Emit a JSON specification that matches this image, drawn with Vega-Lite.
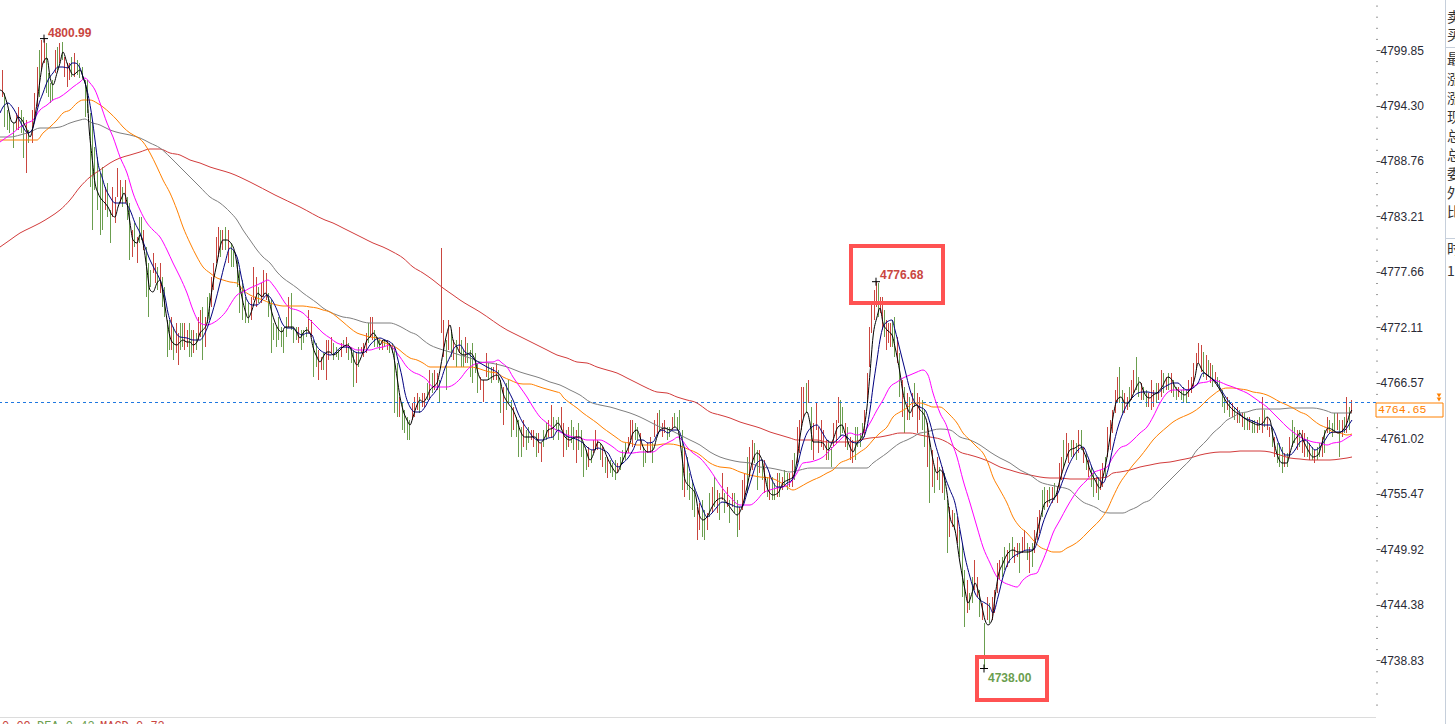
{
"$schema":"https://vega.github.io/schema/vega-lite/v6.json",
"width":1376,"height":724,
"autosize":{"type":"none"},
"padding":{"left":0,"top":0,"right":79,"bottom":0},
"background":"#ffffff",
"config":{"view":{"stroke":null},"axis":{"grid":false}},
"datasets":{
"bars":[
{"t":2,"h":4797.85,"l":4795.15,"c":"r"},{"t":4,"h":4795.55,"l":4792.15,"c":"g"},{"t":7,"h":4793.85,"l":4791.85,"c":"g"},{"t":9,"h":4793.55,"l":4791.55,"c":"g"},{"t":13,"h":4792.55,"l":4790.05,"c":"g"},{"t":16,"h":4793.55,"l":4791.85,"c":"r"},{"t":18,"h":4794.15,"l":4791.85,"c":"r"},{"t":21,"h":4793.85,"l":4791.55,"c":"g"},{"t":23,"h":4793.15,"l":4789.05,"c":"g"},{"t":26,"h":4792.85,"l":4787.55,"c":"r"},{"t":28,"h":4791.85,"l":4790.55,"c":"g"},{"t":32,"h":4793.85,"l":4790.55,"c":"r"},{"t":34,"h":4795.55,"l":4793.15,"c":"r"},{"t":37,"h":4798.15,"l":4794.15,"c":"r"},{"t":39,"h":4799.85,"l":4795.15,"c":"g"},{"t":41,"h":4800.85,"l":4797.85,"c":"r"},{"t":44,"h":4800.99,"l":4798.55,"c":"r"},{"t":46,"h":4800.55,"l":4795.55,"c":"g"},{"t":48,"h":4797.55,"l":4795.15,"c":"g"},{"t":50,"h":4796.55,"l":4794.55,"c":"g"},{"t":52,"h":4796.85,"l":4794.85,"c":"g"},{"t":55,"h":4799.85,"l":4797.55,"c":"r"},{"t":57,"h":4800.15,"l":4797.85,"c":"g"},{"t":59,"h":4800.55,"l":4798.55,"c":"r"},{"t":62,"h":4800.65,"l":4798.85,"c":"g"},{"t":64,"h":4799.15,"l":4797.15,"c":"r"},{"t":67,"h":4798.55,"l":4796.15,"c":"r"},{"t":69,"h":4798.55,"l":4796.85,"c":"r"},{"t":71,"h":4799.15,"l":4797.15,"c":"g"},{"t":74,"h":4799.55,"l":4797.15,"c":"r"},{"t":77,"h":4798.85,"l":4797.35,"c":"g"},{"t":79,"h":4798.55,"l":4797.05,"c":"g"},{"t":82,"h":4798.15,"l":4796.85,"c":"g"},{"t":85,"h":4796.85,"l":4793.15,"c":"g"},{"t":87,"h":4796.85,"l":4793.55,"c":"g"},{"t":90,"h":4793.55,"l":4786.15,"c":"g"},{"t":92,"h":4792.85,"l":4781.85,"c":"g"},{"t":94,"h":4790.15,"l":4785.85,"c":"g"},{"t":97,"h":4789.15,"l":4783.85,"c":"g"},{"t":100,"h":4787.55,"l":4781.35,"c":"g"},{"t":102,"h":4788.15,"l":4781.85,"c":"g"},{"t":105,"h":4786.15,"l":4783.85,"c":"r"},{"t":107,"h":4786.55,"l":4783.15,"c":"g"},{"t":110,"h":4783.85,"l":4780.55,"c":"g"},{"t":112,"h":4786.15,"l":4783.15,"c":"r"},{"t":115,"h":4785.15,"l":4782.55,"c":"r"},{"t":117,"h":4788.05,"l":4785.15,"c":"r"},{"t":120,"h":4786.85,"l":4784.55,"c":"r"},{"t":122,"h":4786.15,"l":4784.15,"c":"g"},{"t":125,"h":4786.85,"l":4784.55,"c":"r"},{"t":127,"h":4785.15,"l":4782.85,"c":"g"},{"t":129,"h":4784.55,"l":4778.85,"c":"g"},{"t":132,"h":4781.85,"l":4779.15,"c":"r"},{"t":134,"h":4782.55,"l":4780.15,"c":"g"},{"t":137,"h":4781.15,"l":4778.55,"c":"r"},{"t":139,"h":4783.15,"l":4780.55,"c":"g"},{"t":141,"h":4783.15,"l":4780.85,"c":"g"},{"t":143,"h":4781.85,"l":4779.85,"c":"r"},{"t":146,"h":4780.15,"l":4775.15,"c":"g"},{"t":148,"h":4778.55,"l":4773.15,"c":"g"},{"t":150,"h":4777.85,"l":4776.15,"c":"g"},{"t":153,"h":4779.55,"l":4777.55,"c":"r"},{"t":155,"h":4778.55,"l":4776.55,"c":"r"},{"t":157,"h":4778.15,"l":4775.85,"c":"g"},{"t":160,"h":4778.55,"l":4775.55,"c":"r"},{"t":162,"h":4777.15,"l":4774.15,"c":"g"},{"t":164,"h":4776.15,"l":4773.15,"c":"g"},{"t":167,"h":4772.85,"l":4769.15,"c":"g"},{"t":169,"h":4772.85,"l":4769.85,"c":"g"},{"t":171,"h":4773.15,"l":4769.85,"c":"r"},{"t":173,"h":4772.15,"l":4768.85,"c":"g"},{"t":176,"h":4772.55,"l":4769.55,"c":"r"},{"t":178,"h":4771.55,"l":4768.35,"c":"r"},{"t":180,"h":4772.55,"l":4769.85,"c":"g"},{"t":182,"h":4772.55,"l":4770.15,"c":"g"},{"t":184,"h":4772.55,"l":4769.85,"c":"r"},{"t":187,"h":4771.85,"l":4770.15,"c":"r"},{"t":189,"h":4772.55,"l":4769.15,"c":"g"},{"t":191,"h":4771.85,"l":4769.15,"c":"g"},{"t":193,"h":4771.85,"l":4769.55,"c":"r"},{"t":196,"h":4771.55,"l":4769.85,"c":"g"},{"t":198,"h":4773.15,"l":4770.85,"c":"r"},{"t":200,"h":4773.85,"l":4771.15,"c":"r"},{"t":202,"h":4774.15,"l":4768.85,"c":"g"},{"t":205,"h":4773.15,"l":4770.15,"c":"r"},{"t":207,"h":4775.15,"l":4772.55,"c":"g"},{"t":209,"h":4775.55,"l":4772.85,"c":"g"},{"t":211,"h":4777.15,"l":4774.15,"c":"r"},{"t":213,"h":4778.55,"l":4775.85,"c":"r"},{"t":216,"h":4781.15,"l":4778.55,"c":"r"},{"t":218,"h":4782.15,"l":4779.15,"c":"r"},{"t":220,"h":4781.85,"l":4779.15,"c":"g"},{"t":222,"h":4781.85,"l":4779.85,"c":"r"},{"t":225,"h":4782.15,"l":4779.85,"c":"g"},{"t":228,"h":4781.85,"l":4778.55,"c":"r"},
{"t":231,"h":4780.55,"l":4778.15,"c":"g"},{"t":233,"h":4779.85,"l":4778.15,"c":"g"},{"t":237,"h":4778.85,"l":4776.15,"c":"g"},{"t":239,"h":4777.85,"l":4773.55,"c":"g"},{"t":242,"h":4776.85,"l":4772.85,"c":"g"},{"t":245,"h":4775.15,"l":4772.55,"c":"g"},{"t":248,"h":4774.55,"l":4772.55,"c":"g"},{"t":251,"h":4775.15,"l":4772.85,"c":"r"},{"t":253,"h":4778.15,"l":4774.85,"c":"r"},{"t":256,"h":4777.15,"l":4774.15,"c":"r"},{"t":258,"h":4776.15,"l":4774.55,"c":"g"},{"t":261,"h":4776.55,"l":4774.55,"c":"r"},{"t":263,"h":4777.85,"l":4775.15,"c":"r"},{"t":266,"h":4777.55,"l":4774.85,"c":"r"},{"t":268,"h":4775.55,"l":4773.15,"c":"g"},{"t":271,"h":4774.85,"l":4769.55,"c":"g"},{"t":273,"h":4772.55,"l":4770.85,"c":"g"},{"t":276,"h":4772.15,"l":4770.15,"c":"g"},{"t":278,"h":4773.15,"l":4770.85,"c":"g"},{"t":281,"h":4772.15,"l":4770.15,"c":"g"},{"t":283,"h":4771.85,"l":4769.55,"c":"g"},{"t":286,"h":4773.15,"l":4771.15,"c":"g"},{"t":288,"h":4775.15,"l":4772.15,"c":"r"},{"t":291,"h":4775.55,"l":4771.85,"c":"g"},{"t":293,"h":4772.15,"l":4770.55,"c":"g"},{"t":296,"h":4772.15,"l":4770.85,"c":"g"},{"t":298,"h":4772.15,"l":4770.55,"c":"r"},{"t":301,"h":4771.85,"l":4769.85,"c":"g"},{"t":303,"h":4771.85,"l":4770.55,"c":"g"},{"t":306,"h":4772.15,"l":4771.15,"c":"g"},{"t":308,"h":4773.85,"l":4771.55,"c":"r"},{"t":311,"h":4772.85,"l":4771.15,"c":"r"},{"t":313,"h":4770.85,"l":4767.15,"c":"g"},{"t":316,"h":4770.55,"l":4768.15,"c":"g"},{"t":318,"h":4769.85,"l":4766.85,"c":"r"},{"t":321,"h":4769.15,"l":4767.85,"c":"r"},{"t":323,"h":4769.55,"l":4767.85,"c":"g"},{"t":326,"h":4770.85,"l":4766.85,"c":"r"},{"t":328,"h":4770.85,"l":4768.85,"c":"r"},{"t":331,"h":4771.15,"l":4769.55,"c":"r"},{"t":333,"h":4770.55,"l":4768.85,"c":"g"},{"t":336,"h":4770.15,"l":4769.15,"c":"g"},{"t":338,"h":4769.85,"l":4768.85,"c":"g"},{"t":341,"h":4770.55,"l":4769.15,"c":"r"},{"t":343,"h":4770.85,"l":4770.15,"c":"g"},{"t":346,"h":4771.15,"l":4769.55,"c":"r"},{"t":348,"h":4770.55,"l":4768.85,"c":"g"},{"t":351,"h":4770.15,"l":4768.55,"c":"g"},{"t":353,"h":4769.85,"l":4766.15,"c":"g"},{"t":356,"h":4769.55,"l":4766.55,"c":"r"},{"t":358,"h":4770.15,"l":4768.15,"c":"g"},{"t":361,"h":4770.15,"l":4769.55,"c":"r"},{"t":363,"h":4770.55,"l":4769.15,"c":"r"},{"t":366,"h":4771.55,"l":4769.55,"c":"r"},{"t":368,"h":4772.55,"l":4770.55,"c":"g"},{"t":370,"h":4773.15,"l":4771.15,"c":"r"},{"t":372,"h":4773.15,"l":4770.85,"c":"r"},{"t":374,"h":4771.85,"l":4770.15,"c":"g"},{"t":377,"h":4771.15,"l":4770.15,"c":"g"},{"t":379,"h":4770.85,"l":4769.85,"c":"g"},{"t":382,"h":4770.85,"l":4769.85,"c":"r"},{"t":384,"h":4770.85,"l":4770.15,"c":"g"},{"t":387,"h":4770.85,"l":4769.85,"c":"r"},{"t":389,"h":4770.55,"l":4769.55,"c":"g"},{"t":392,"h":4770.55,"l":4769.55,"c":"g"},{"t":394,"h":4770.15,"l":4763.55,"c":"g"},{"t":397,"h":4768.55,"l":4763.15,"c":"g"},{"t":399,"h":4765.15,"l":4763.15,"c":"r"},{"t":402,"h":4764.55,"l":4761.85,"c":"g"},{"t":404,"h":4763.85,"l":4761.55,"c":"g"},{"t":407,"h":4763.15,"l":4760.85,"c":"g"},{"t":409,"h":4762.85,"l":4760.85,"c":"g"},{"t":412,"h":4764.55,"l":4762.85,"c":"r"},{"t":414,"h":4765.15,"l":4763.15,"c":"r"},{"t":417,"h":4765.55,"l":4763.85,"c":"r"},{"t":419,"h":4765.15,"l":4763.55,"c":"g"},{"t":422,"h":4765.55,"l":4764.15,"c":"r"},{"t":424,"h":4765.55,"l":4764.15,"c":"r"},{"t":427,"h":4766.55,"l":4764.85,"c":"g"},{"t":429,"h":4767.85,"l":4764.85,"c":"r"},{"t":432,"h":4767.55,"l":4765.55,"c":"g"},{"t":434,"h":4767.85,"l":4765.85,"c":"r"},{"t":437,"h":4767.55,"l":4765.85,"c":"r"},{"t":439,"h":4766.85,"l":4764.55,"c":"g"},{"t":441,"h":4780.05,"l":4771.55,"c":"r"},{"t":443,"h":4772.85,"l":4769.15,"c":"r"},{"t":446,"h":4770.85,"l":4765.85,"c":"g"},{"t":448,"h":4772.85,"l":4769.85,"c":"r"},{"t":451,"h":4771.85,"l":4769.15,"c":"g"},{"t":453,"h":4770.85,"l":4768.85,"c":"r"},{"t":456,"h":4770.85,"l":4768.15,"c":"g"},{"t":459,"h":4772.15,"l":4769.55,"c":"r"},
{"t":461,"h":4770.85,"l":4768.15,"c":"g"},{"t":463,"h":4769.85,"l":4768.15,"c":"g"},{"t":465,"h":4771.15,"l":4768.55,"c":"r"},{"t":467,"h":4770.55,"l":4768.55,"c":"g"},{"t":470,"h":4769.85,"l":4767.15,"c":"g"},{"t":472,"h":4770.55,"l":4766.55,"c":"g"},{"t":475,"h":4769.55,"l":4767.55,"c":"g"},{"t":477,"h":4768.55,"l":4765.55,"c":"g"},{"t":480,"h":4767.15,"l":4765.85,"c":"r"},{"t":483,"h":4766.85,"l":4764.65,"c":"r"},{"t":486,"h":4769.55,"l":4767.15,"c":"r"},{"t":488,"h":4768.55,"l":4766.85,"c":"g"},{"t":491,"h":4768.15,"l":4766.55,"c":"g"},{"t":493,"h":4768.15,"l":4766.85,"c":"r"},{"t":496,"h":4768.55,"l":4766.85,"c":"r"},{"t":498,"h":4767.85,"l":4766.55,"c":"g"},{"t":500,"h":4766.85,"l":4763.55,"c":"g"},{"t":503,"h":4766.15,"l":4762.35,"c":"r"},{"t":506,"h":4766.55,"l":4763.85,"c":"g"},{"t":508,"h":4766.85,"l":4764.55,"c":"g"},{"t":511,"h":4764.85,"l":4761.15,"c":"g"},{"t":513,"h":4764.15,"l":4761.85,"c":"r"},{"t":516,"h":4763.15,"l":4761.15,"c":"g"},{"t":518,"h":4762.85,"l":4759.15,"c":"g"},{"t":521,"h":4762.15,"l":4759.15,"c":"g"},{"t":523,"h":4762.85,"l":4760.15,"c":"r"},{"t":526,"h":4761.85,"l":4759.85,"c":"g"},{"t":528,"h":4762.15,"l":4760.55,"c":"g"},{"t":531,"h":4761.85,"l":4760.85,"c":"r"},{"t":533,"h":4761.85,"l":4760.15,"c":"r"},{"t":536,"h":4761.55,"l":4759.15,"c":"g"},{"t":538,"h":4761.55,"l":4759.55,"c":"r"},{"t":541,"h":4760.55,"l":4758.65,"c":"r"},{"t":543,"h":4761.85,"l":4760.15,"c":"g"},{"t":546,"h":4762.55,"l":4760.85,"c":"g"},{"t":548,"h":4762.85,"l":4761.15,"c":"r"},{"t":551,"h":4764.35,"l":4761.15,"c":"r"},{"t":553,"h":4763.15,"l":4760.85,"c":"g"},{"t":556,"h":4762.85,"l":4761.85,"c":"g"},{"t":558,"h":4763.15,"l":4760.85,"c":"g"},{"t":561,"h":4764.15,"l":4761.85,"c":"r"},{"t":563,"h":4762.55,"l":4759.15,"c":"r"},{"t":566,"h":4761.85,"l":4759.85,"c":"g"},{"t":568,"h":4762.15,"l":4760.15,"c":"r"},{"t":571,"h":4762.85,"l":4760.55,"c":"g"},{"t":573,"h":4762.15,"l":4759.85,"c":"g"},{"t":576,"h":4761.85,"l":4758.55,"c":"r"},{"t":578,"h":4762.55,"l":4759.85,"c":"g"},{"t":581,"h":4761.85,"l":4759.15,"c":"g"},{"t":583,"h":4760.55,"l":4757.15,"c":"g"},{"t":586,"h":4759.85,"l":4757.85,"c":"g"},{"t":588,"h":4760.15,"l":4758.15,"c":"r"},{"t":591,"h":4759.85,"l":4758.55,"c":"g"},{"t":593,"h":4760.85,"l":4759.55,"c":"r"},{"t":595,"h":4761.85,"l":4759.85,"c":"r"},{"t":597,"h":4760.85,"l":4759.85,"c":"r"},{"t":600,"h":4760.55,"l":4758.85,"c":"g"},{"t":602,"h":4760.15,"l":4758.15,"c":"r"},{"t":605,"h":4759.15,"l":4757.55,"c":"g"},{"t":607,"h":4759.15,"l":4757.05,"c":"r"},{"t":610,"h":4758.85,"l":4757.55,"c":"g"},{"t":612,"h":4758.55,"l":4757.15,"c":"g"},{"t":615,"h":4758.85,"l":4756.85,"c":"g"},{"t":617,"h":4758.55,"l":4757.55,"c":"r"},{"t":620,"h":4759.15,"l":4757.85,"c":"g"},{"t":622,"h":4759.85,"l":4758.55,"c":"g"},{"t":625,"h":4760.55,"l":4758.85,"c":"g"},{"t":628,"h":4761.15,"l":4759.55,"c":"r"},{"t":630,"h":4762.85,"l":4760.85,"c":"r"},{"t":632,"h":4762.85,"l":4760.15,"c":"r"},{"t":635,"h":4762.55,"l":4760.85,"c":"g"},{"t":637,"h":4762.15,"l":4760.85,"c":"g"},{"t":640,"h":4761.55,"l":4759.85,"c":"r"},{"t":643,"h":4760.15,"l":4758.15,"c":"g"},{"t":645,"h":4759.85,"l":4758.55,"c":"g"},{"t":647,"h":4760.55,"l":4759.55,"c":"r"},{"t":650,"h":4761.15,"l":4759.55,"c":"r"},{"t":652,"h":4760.55,"l":4758.55,"c":"g"},{"t":654,"h":4762.85,"l":4761.15,"c":"r"},{"t":657,"h":4763.55,"l":4761.55,"c":"r"},{"t":659,"h":4763.85,"l":4761.85,"c":"g"},{"t":662,"h":4762.55,"l":4761.15,"c":"r"},{"t":664,"h":4762.85,"l":4761.55,"c":"r"},{"t":667,"h":4762.15,"l":4760.85,"c":"g"},{"t":669,"h":4762.15,"l":4761.15,"c":"g"},{"t":672,"h":4763.15,"l":4761.85,"c":"r"},{"t":674,"h":4763.55,"l":4762.15,"c":"g"},{"t":677,"h":4763.15,"l":4761.85,"c":"g"},{"t":679,"h":4763.85,"l":4761.85,"c":"g"},{"t":682,"h":4761.85,"l":4755.85,"c":"g"},{"t":684,"h":4760.15,"l":4755.15,"c":"r"},{"t":687,"h":4759.15,"l":4755.85,"c":"g"},{"t":689,"h":4757.55,"l":4754.85,"c":"g"},{"t":692,"h":4756.85,"l":4753.85,"c":"g"},{"t":694,"h":4756.15,"l":4753.15,"c":"g"},{"t":697,"h":4754.15,"l":4750.85,"c":"r"},{"t":699,"h":4754.55,"l":4751.85,"c":"r"},
{"t":702,"h":4754.85,"l":4751.15,"c":"g"},{"t":704,"h":4753.85,"l":4750.85,"c":"g"},{"t":707,"h":4753.55,"l":4751.85,"c":"r"},{"t":709,"h":4755.55,"l":4753.15,"c":"g"},{"t":712,"h":4756.15,"l":4753.55,"c":"r"},{"t":714,"h":4757.15,"l":4754.15,"c":"g"},{"t":717,"h":4755.85,"l":4753.55,"c":"r"},{"t":719,"h":4755.55,"l":4752.85,"c":"g"},{"t":722,"h":4757.55,"l":4754.85,"c":"r"},{"t":724,"h":4755.55,"l":4753.55,"c":"g"},{"t":727,"h":4756.15,"l":4754.15,"c":"r"},{"t":729,"h":4754.85,"l":4752.55,"c":"g"},{"t":732,"h":4755.55,"l":4754.15,"c":"r"},{"t":734,"h":4755.55,"l":4753.55,"c":"g"},{"t":737,"h":4754.85,"l":4751.15,"c":"g"},{"t":739,"h":4754.15,"l":4751.85,"c":"r"},{"t":742,"h":4756.85,"l":4753.85,"c":"r"},{"t":744,"h":4757.55,"l":4754.85,"c":"r"},{"t":747,"h":4759.15,"l":4755.55,"c":"g"},{"t":749,"h":4760.15,"l":4757.15,"c":"r"},{"t":752,"h":4760.85,"l":4757.85,"c":"r"},{"t":754,"h":4760.55,"l":4758.55,"c":"g"},{"t":757,"h":4759.85,"l":4755.85,"c":"g"},{"t":759,"h":4759.85,"l":4757.55,"c":"r"},{"t":762,"h":4758.85,"l":4756.85,"c":"g"},{"t":764,"h":4758.85,"l":4755.55,"c":"r"},{"t":767,"h":4757.15,"l":4755.15,"c":"g"},{"t":769,"h":4757.55,"l":4754.85,"c":"r"},{"t":772,"h":4757.15,"l":4754.85,"c":"g"},{"t":774,"h":4756.55,"l":4754.85,"c":"g"},{"t":777,"h":4757.55,"l":4755.15,"c":"r"},{"t":779,"h":4757.55,"l":4755.15,"c":"g"},{"t":782,"h":4757.15,"l":4755.85,"c":"r"},{"t":784,"h":4757.85,"l":4756.15,"c":"g"},{"t":787,"h":4757.55,"l":4755.85,"c":"g"},{"t":789,"h":4757.55,"l":4756.15,"c":"r"},{"t":792,"h":4758.85,"l":4756.15,"c":"r"},{"t":794,"h":4759.55,"l":4756.85,"c":"g"},{"t":797,"h":4762.15,"l":4758.55,"c":"r"},{"t":799,"h":4762.85,"l":4759.55,"c":"r"},{"t":801,"h":4766.15,"l":4761.85,"c":"r"},{"t":803,"h":4766.15,"l":4763.15,"c":"r"},{"t":806,"h":4766.55,"l":4763.55,"c":"g"},{"t":808,"h":4766.85,"l":4764.55,"c":"r"},{"t":811,"h":4764.15,"l":4759.85,"c":"g"},{"t":813,"h":4762.55,"l":4758.85,"c":"r"},{"t":816,"h":4764.55,"l":4761.85,"c":"r"},{"t":818,"h":4762.15,"l":4759.55,"c":"r"},{"t":821,"h":4762.85,"l":4760.15,"c":"r"},{"t":823,"h":4761.85,"l":4759.85,"c":"r"},{"t":826,"h":4760.85,"l":4758.85,"c":"r"},{"t":828,"h":4760.85,"l":4758.85,"c":"g"},{"t":831,"h":4760.15,"l":4758.15,"c":"g"},{"t":833,"h":4762.55,"l":4760.15,"c":"r"},{"t":836,"h":4762.85,"l":4760.55,"c":"r"},{"t":838,"h":4765.15,"l":4762.55,"c":"r"},{"t":840,"h":4764.85,"l":4761.15,"c":"g"},{"t":842,"h":4764.15,"l":4761.55,"c":"g"},{"t":845,"h":4762.55,"l":4760.15,"c":"r"},{"t":847,"h":4762.15,"l":4759.85,"c":"g"},{"t":850,"h":4761.15,"l":4758.85,"c":"r"},{"t":852,"h":4760.85,"l":4758.55,"c":"r"},{"t":855,"h":4762.15,"l":4758.85,"c":"g"},{"t":857,"h":4762.15,"l":4760.15,"c":"g"},{"t":860,"h":4761.55,"l":4760.15,"c":"g"},{"t":862,"h":4762.55,"l":4760.85,"c":"g"},{"t":864,"h":4763.85,"l":4761.15,"c":"r"},{"t":867,"h":4767.55,"l":4764.55,"c":"r"},{"t":869,"h":4772.15,"l":4768.15,"c":"r"},{"t":871,"h":4774.55,"l":4771.55,"c":"r"},{"t":874,"h":4775.85,"l":4772.85,"c":"r"},{"t":876,"h":4776.68,"l":4774.15,"c":"r"},{"t":878,"h":4776.55,"l":4773.15,"c":"g"},{"t":880,"h":4775.15,"l":4773.55,"c":"r"},{"t":882,"h":4775.15,"l":4771.85,"c":"r"},{"t":884,"h":4773.85,"l":4771.15,"c":"g"},{"t":886,"h":4772.85,"l":4769.85,"c":"r"},{"t":888,"h":4772.55,"l":4770.55,"c":"r"},{"t":890,"h":4772.55,"l":4770.15,"c":"r"},{"t":892,"h":4772.85,"l":4770.15,"c":"g"},{"t":894,"h":4773.15,"l":4769.15,"c":"g"},{"t":897,"h":4771.15,"l":4768.55,"c":"r"},{"t":899,"h":4769.55,"l":4765.15,"c":"g"},{"t":902,"h":4766.85,"l":4763.15,"c":"r"},{"t":904,"h":4766.15,"l":4761.55,"c":"g"},{"t":907,"h":4765.55,"l":4762.85,"c":"r"},{"t":909,"h":4765.15,"l":4762.85,"c":"g"},{"t":912,"h":4765.55,"l":4763.15,"c":"r"},{"t":914,"h":4766.55,"l":4764.15,"c":"g"},{"t":917,"h":4765.55,"l":4761.55,"c":"r"},{"t":919,"h":4765.15,"l":4762.85,"c":"r"},{"t":922,"h":4764.85,"l":4761.85,"c":"g"},{"t":924,"h":4763.85,"l":4760.15,"c":"g"},{"t":927,"h":4762.55,"l":4758.15,"c":"r"},{"t":929,"h":4760.85,"l":4754.55,"c":"g"},{"t":932,"h":4759.85,"l":4756.15,"c":"r"},{"t":934,"h":4758.15,"l":4755.55,"c":"g"},{"t":937,"h":4759.15,"l":4756.85,"c":"r"},{"t":939,"h":4758.15,"l":4755.85,"c":"g"},{"t":942,"h":4758.15,"l":4755.55,"c":"r"},{"t":944,"h":4757.55,"l":4754.85,"c":"g"},{"t":947,"h":4754.85,"l":4749.55,"c":"g"},{"t":949,"h":4754.15,"l":4751.15,"c":"r"},
{"t":952,"h":4753.85,"l":4752.15,"c":"r"},{"t":954,"h":4753.55,"l":4751.85,"c":"g"},{"t":957,"h":4753.15,"l":4750.55,"c":"r"},{"t":959,"h":4751.85,"l":4749.15,"c":"g"},{"t":962,"h":4750.55,"l":4745.15,"c":"g"},{"t":964,"h":4747.85,"l":4742.15,"c":"g"},{"t":967,"h":4746.85,"l":4743.55,"c":"r"},{"t":969,"h":4745.55,"l":4743.85,"c":"g"},{"t":972,"h":4747.15,"l":4744.55,"c":"g"},{"t":974,"h":4748.85,"l":4745.85,"c":"r"},{"t":977,"h":4747.15,"l":4745.15,"c":"r"},{"t":979,"h":4745.85,"l":4743.15,"c":"g"},{"t":982,"h":4744.55,"l":4742.85,"c":"r"},{"t":984,"h":4742.55,"l":4738.0,"c":"g"},{"t":987,"h":4745.15,"l":4742.85,"c":"r"},{"t":989,"h":4744.55,"l":4742.55,"c":"g"},{"t":992,"h":4745.15,"l":4742.85,"c":"r"},{"t":994,"h":4745.85,"l":4743.55,"c":"r"},{"t":997,"h":4748.55,"l":4745.55,"c":"r"},{"t":999,"h":4748.85,"l":4746.85,"c":"r"},{"t":1002,"h":4749.15,"l":4747.15,"c":"g"},{"t":1004,"h":4750.15,"l":4747.85,"c":"g"},{"t":1007,"h":4749.85,"l":4748.15,"c":"r"},{"t":1009,"h":4750.55,"l":4748.55,"c":"g"},{"t":1012,"h":4751.15,"l":4749.15,"c":"g"},{"t":1014,"h":4750.15,"l":4748.55,"c":"r"},{"t":1017,"h":4750.55,"l":4749.15,"c":"r"},{"t":1019,"h":4750.55,"l":4747.55,"c":"g"},{"t":1022,"h":4751.15,"l":4749.55,"c":"r"},{"t":1024,"h":4751.85,"l":4749.85,"c":"r"},{"t":1027,"h":4750.55,"l":4748.85,"c":"g"},{"t":1029,"h":4750.15,"l":4747.55,"c":"r"},{"t":1032,"h":4750.55,"l":4748.15,"c":"g"},{"t":1034,"h":4751.85,"l":4749.55,"c":"r"},{"t":1037,"h":4753.15,"l":4750.85,"c":"r"},{"t":1039,"h":4753.85,"l":4751.55,"c":"r"},{"t":1042,"h":4755.85,"l":4753.15,"c":"g"},{"t":1044,"h":4756.15,"l":4753.85,"c":"g"},{"t":1047,"h":4755.85,"l":4754.15,"c":"r"},{"t":1049,"h":4756.15,"l":4754.55,"c":"g"},{"t":1052,"h":4756.15,"l":4754.55,"c":"r"},{"t":1054,"h":4756.55,"l":4754.85,"c":"g"},{"t":1057,"h":4756.15,"l":4754.55,"c":"r"},{"t":1059,"h":4758.55,"l":4755.85,"c":"r"},{"t":1061,"h":4759.15,"l":4756.85,"c":"r"},{"t":1063,"h":4760.85,"l":4758.15,"c":"g"},{"t":1066,"h":4761.55,"l":4759.15,"c":"r"},{"t":1068,"h":4760.55,"l":4758.55,"c":"r"},{"t":1071,"h":4760.85,"l":4759.15,"c":"g"},{"t":1073,"h":4760.85,"l":4759.15,"c":"r"},{"t":1076,"h":4760.55,"l":4758.85,"c":"g"},{"t":1078,"h":4761.85,"l":4759.55,"c":"r"},{"t":1081,"h":4761.85,"l":4759.85,"c":"g"},{"t":1083,"h":4760.15,"l":4758.55,"c":"r"},{"t":1086,"h":4759.55,"l":4757.85,"c":"g"},{"t":1088,"h":4758.85,"l":4757.15,"c":"r"},{"t":1091,"h":4758.15,"l":4756.15,"c":"g"},{"t":1093,"h":4757.55,"l":4755.15,"c":"g"},{"t":1096,"h":4757.15,"l":4755.55,"c":"r"},{"t":1098,"h":4757.15,"l":4754.85,"c":"g"},{"t":1100,"h":4757.85,"l":4755.85,"c":"r"},{"t":1102,"h":4758.55,"l":4756.15,"c":"r"},{"t":1105,"h":4759.15,"l":4757.15,"c":"g"},{"t":1107,"h":4762.15,"l":4759.15,"c":"r"},{"t":1110,"h":4762.85,"l":4759.85,"c":"r"},{"t":1112,"h":4763.85,"l":4761.55,"c":"r"},{"t":1115,"h":4765.85,"l":4763.55,"c":"r"},{"t":1117,"h":4767.15,"l":4764.55,"c":"r"},{"t":1119,"h":4768.15,"l":4764.55,"c":"g"},{"t":1122,"h":4765.85,"l":4763.55,"c":"g"},{"t":1124,"h":4765.55,"l":4763.55,"c":"r"},{"t":1127,"h":4765.15,"l":4763.85,"c":"r"},{"t":1129,"h":4766.15,"l":4764.15,"c":"g"},{"t":1131,"h":4766.85,"l":4764.85,"c":"r"},{"t":1133,"h":4767.85,"l":4765.55,"c":"r"},{"t":1136,"h":4769.15,"l":4765.85,"c":"g"},{"t":1138,"h":4767.15,"l":4765.15,"c":"g"},{"t":1141,"h":4766.55,"l":4764.85,"c":"r"},{"t":1143,"h":4766.15,"l":4764.85,"c":"g"},{"t":1146,"h":4765.85,"l":4764.15,"c":"g"},{"t":1148,"h":4765.55,"l":4764.15,"c":"r"},{"t":1151,"h":4766.85,"l":4763.85,"c":"r"},{"t":1153,"h":4765.85,"l":4764.15,"c":"r"},{"t":1156,"h":4766.55,"l":4764.55,"c":"g"},{"t":1158,"h":4766.55,"l":4764.85,"c":"r"},{"t":1161,"h":4767.85,"l":4765.15,"c":"r"},{"t":1163,"h":4767.55,"l":4765.55,"c":"g"},{"t":1166,"h":4767.15,"l":4765.85,"c":"r"},{"t":1168,"h":4767.55,"l":4765.85,"c":"g"},{"t":1171,"h":4767.55,"l":4765.55,"c":"r"},{"t":1173,"h":4766.85,"l":4765.15,"c":"g"},{"t":1176,"h":4766.15,"l":4764.85,"c":"g"},{"t":1178,"h":4766.15,"l":4765.15,"c":"r"},{"t":1181,"h":4765.85,"l":4764.85,"c":"g"},{"t":1183,"h":4766.15,"l":4764.55,"c":"g"},{"t":1186,"h":4765.85,"l":4764.55,"c":"g"},{"t":1188,"h":4766.85,"l":4765.15,"c":"r"},{"t":1191,"h":4767.15,"l":4765.55,"c":"r"},{"t":1193,"h":4768.55,"l":4766.15,"c":"r"},{"t":1196,"h":4769.55,"l":4767.85,"c":"r"},{"t":1198,"h":4770.55,"l":4768.55,"c":"r"},
{"t":1201,"h":4770.35,"l":4767.65,"c":"r"},{"t":1203,"h":4769.65,"l":4767.15,"c":"g"},{"t":1206,"h":4769.35,"l":4766.85,"c":"r"},{"t":1208,"h":4768.85,"l":4767.15,"c":"g"},{"t":1210,"h":4768.55,"l":4766.55,"c":"r"},{"t":1212,"h":4768.35,"l":4766.15,"c":"g"},{"t":1215,"h":4767.65,"l":4766.55,"c":"r"},{"t":1217,"h":4767.15,"l":4766.15,"c":"g"},{"t":1219,"h":4766.85,"l":4765.85,"c":"g"},{"t":1222,"h":4765.85,"l":4764.15,"c":"g"},{"t":1224,"h":4765.15,"l":4763.55,"c":"g"},{"t":1227,"h":4765.15,"l":4763.85,"c":"r"},{"t":1229,"h":4764.85,"l":4763.15,"c":"g"},{"t":1232,"h":4764.55,"l":4763.15,"c":"r"},{"t":1234,"h":4764.15,"l":4762.85,"c":"g"},{"t":1237,"h":4764.15,"l":4762.55,"c":"r"},{"t":1239,"h":4763.85,"l":4762.55,"c":"g"},{"t":1242,"h":4763.55,"l":4762.15,"c":"r"},{"t":1244,"h":4763.55,"l":4761.85,"c":"g"},{"t":1247,"h":4763.15,"l":4761.85,"c":"g"},{"t":1249,"h":4763.15,"l":4761.85,"c":"r"},{"t":1252,"h":4762.85,"l":4761.55,"c":"g"},{"t":1254,"h":4762.85,"l":4761.55,"c":"g"},{"t":1257,"h":4762.85,"l":4761.55,"c":"r"},{"t":1259,"h":4763.15,"l":4761.85,"c":"g"},{"t":1262,"h":4765.15,"l":4761.55,"c":"r"},{"t":1264,"h":4763.85,"l":4762.15,"c":"g"},{"t":1267,"h":4763.15,"l":4761.85,"c":"r"},{"t":1269,"h":4762.15,"l":4761.15,"c":"r"},{"t":1272,"h":4762.15,"l":4760.15,"c":"g"},{"t":1274,"h":4761.15,"l":4759.15,"c":"r"},{"t":1277,"h":4760.55,"l":4758.55,"c":"g"},{"t":1279,"h":4760.55,"l":4758.15,"c":"g"},{"t":1282,"h":4760.15,"l":4757.55,"c":"g"},{"t":1284,"h":4759.55,"l":4758.15,"c":"r"},{"t":1287,"h":4759.55,"l":4758.15,"c":"g"},{"t":1289,"h":4761.15,"l":4759.15,"c":"r"},{"t":1292,"h":4762.85,"l":4760.15,"c":"g"},{"t":1294,"h":4762.15,"l":4760.55,"c":"g"},{"t":1297,"h":4761.85,"l":4759.85,"c":"r"},{"t":1299,"h":4761.85,"l":4760.15,"c":"g"},{"t":1302,"h":4761.85,"l":4759.55,"c":"r"},{"t":1304,"h":4761.55,"l":4759.15,"c":"r"},{"t":1307,"h":4761.15,"l":4759.15,"c":"g"},{"t":1309,"h":4760.55,"l":4758.85,"c":"r"},{"t":1312,"h":4760.15,"l":4758.85,"c":"g"},{"t":1314,"h":4759.85,"l":4758.55,"c":"r"},{"t":1317,"h":4760.15,"l":4758.85,"c":"g"},{"t":1319,"h":4760.55,"l":4759.15,"c":"g"},{"t":1322,"h":4761.15,"l":4759.15,"c":"r"},{"t":1324,"h":4761.85,"l":4759.55,"c":"g"},{"t":1327,"h":4763.15,"l":4761.55,"c":"r"},{"t":1329,"h":4762.85,"l":4761.55,"c":"g"},{"t":1332,"h":4762.55,"l":4761.15,"c":"g"},{"t":1334,"h":4763.55,"l":4761.55,"c":"g"},{"t":1337,"h":4763.55,"l":4761.85,"c":"r"},{"t":1339,"h":4762.85,"l":4759.15,"c":"g"},{"t":1342,"h":4762.85,"l":4761.15,"c":"r"},{"t":1344,"h":4763.15,"l":4761.55,"c":"g"},{"t":1346,"h":4765.15,"l":4761.55,"c":"r"},{"t":1349,"h":4764.15,"l":4761.85,"c":"g"},{"t":1351,"h":4764.85,"l":4763.55,"c":"r"}
],
"m1":[
{"t":0,"v":4795.85},{"t":3,"v":4795.65},{"t":7,"v":4794.55},{"t":12,"v":4792.65},{"t":15,"v":4792.55},{"t":18,"v":4793.15},{"t":22,"v":4792.85},{"t":27,"v":4791.85},{"t":30,"v":4791.15},{"t":33,"v":4792.15},{"t":37,"v":4794.55},{"t":40,"v":4796.85},{"t":43,"v":4798.55},{"t":47,"v":4799.05},{"t":50,"v":4797.15},{"t":53,"v":4796.35},{"t":57,"v":4797.55},{"t":60,"v":4798.55},{"t":63,"v":4799.65},{"t":67,"v":4798.55},{"t":70,"v":4797.85},{"t":73,"v":4797.35},{"t":77,"v":4797.65},{"t":80,"v":4797.85},{"t":83,"v":4797.15},{"t":87,"v":4795.55},{"t":89,"v":4792.15},{"t":92,"v":4789.15},{"t":95,"v":4786.55},{"t":98,"v":4785.55},{"t":102,"v":4784.85},{"t":105,"v":4784.55},{"t":108,"v":4784.15},{"t":112,"v":4783.35},{"t":115,"v":4783.15},{"t":118,"v":4784.15},{"t":122,"v":4785.15},{"t":124,"v":4785.55},{"t":127,"v":4784.55},{"t":130,"v":4782.55},{"t":133,"v":4780.85},{"t":137,"v":4780.55},{"t":140,"v":4781.35},{"t":143,"v":4780.55},{"t":147,"v":4777.85},{"t":150,"v":4775.85},{"t":153,"v":4775.65},{"t":157,"v":4776.55},{"t":160,"v":4776.85},{"t":163,"v":4775.55},{"t":167,"v":4772.85},{"t":170,"v":4771.15},{"t":173,"v":4770.55},{"t":177,"v":4770.35},{"t":180,"v":4770.65},{"t":183,"v":4770.85},{"t":187,"v":4770.65},{"t":190,"v":4770.65},{"t":193,"v":4770.35},{"t":197,"v":4770.65},{"t":200,"v":4771.55},{"t":203,"v":4771.85},{"t":207,"v":4772.55},{"t":210,"v":4774.55},{"t":213,"v":4776.55},{"t":217,"v":4778.55},{"t":220,"v":4780.15},{"t":223,"v":4780.85},{"t":227,"v":4780.85},{"t":230,"v":4780.65},{"t":235,"v":4779.55},{"t":240,"v":4776.15},{"t":245,"v":4773.85},{"t":248,"v":4773.05},{"t":252,"v":4773.85},{"t":255,"v":4774.85},{"t":258,"v":4775.55},{"t":262,"v":4775.15},{"t":265,"v":4775.55},{"t":268,"v":4775.15},{"t":272,"v":4773.55},{"t":277,"v":4772.15},{"t":282,"v":4771.65},{"t":285,"v":4772.15},{"t":290,"v":4772.15},{"t":293,"v":4772.15},{"t":297,"v":4771.55},{"t":300,"v":4771.05},{"t":303,"v":4771.55},{"t":307,"v":4771.85},{"t":310,"v":4771.55},{"t":313,"v":4770.15},{"t":317,"v":4769.15},{"t":320,"v":4768.65},{"t":323,"v":4769.15},{"t":327,"v":4769.65},{"t":330,"v":4769.65},{"t":333,"v":4769.35},{"t":337,"v":4769.55},{"t":340,"v":4769.85},{"t":343,"v":4770.15},{"t":347,"v":4770.35},{"t":350,"v":4770.15},{"t":353,"v":4769.15},{"t":357,"v":4768.35},{"t":360,"v":4768.85},{"t":363,"v":4769.65},{"t":367,"v":4770.85},{"t":370,"v":4771.15},{"t":373,"v":4771.55},{"t":377,"v":4771.05},{"t":380,"v":4770.35},{"t":383,"v":4770.85},{"t":387,"v":4770.65},{"t":390,"v":4770.35},{"t":393,"v":4769.55},{"t":397,"v":4767.15},{"t":400,"v":4765.15},{"t":403,"v":4763.85},{"t":407,"v":4762.85},{"t":410,"v":4762.35},{"t":413,"v":4763.15},{"t":417,"v":4764.35},{"t":420,"v":4764.85},{"t":423,"v":4764.65},{"t":427,"v":4765.15},{"t":430,"v":4765.85},{"t":433,"v":4766.15},{"t":437,"v":4766.55},{"t":440,"v":4767.85},{"t":443,"v":4769.55},{"t":447,"v":4771.55},{"t":450,"v":4772.35},{"t":453,"v":4770.85},{"t":457,"v":4770.15},{"t":460,"v":4769.55},{"t":465,"v":4769.35},{"t":470,"v":4769.55},{"t":475,"v":4768.85},{"t":478,"v":4767.55},{"t":482,"v":4766.85},{"t":487,"v":4766.85},{"t":492,"v":4767.15},{"t":497,"v":4767.35},{"t":500,"v":4766.85},{"t":503,"v":4765.55},{"t":508,"v":4764.55},{"t":513,"v":4763.85},{"t":517,"v":4762.85},{"t":520,"v":4761.85},{"t":525,"v":4761.15},{"t":530,"v":4761.15},{"t":535,"v":4761.15},{"t":540,"v":4760.55},{"t":545,"v":4761.15},{"t":548,"v":4761.85},{"t":553,"v":4762.05},{"t":558,"v":4762.55},{"t":562,"v":4761.85},{"t":565,"v":4761.15},{"t":570,"v":4760.85},{"t":575,"v":4761.15},{"t":580,"v":4761.15},{"t":585,"v":4760.15},{"t":590,"v":4758.85},{"t":595,"v":4759.85},{"t":598,"v":4760.65},{"t":603,"v":4760.15},{"t":607,"v":4759.15},{"t":612,"v":4758.15},{"t":617,"v":4757.55},{"t":620,"v":4758.15},{"t":625,"v":4759.35},{"t":630,"v":4760.55},{"t":633,"v":4761.55},{"t":637,"v":4761.85},{"t":640,"v":4761.15},{"t":643,"v":4760.15},{"t":648,"v":4759.65},{"t":653,"v":4759.85},{"t":657,"v":4761.15},{"t":660,"v":4761.85},{"t":665,"v":4762.05},{"t":670,"v":4761.85},{"t":675,"v":4762.15},{"t":678,"v":4761.85},{"t":682,"v":4759.15},{"t":685,"v":4756.85},{"t":690,"v":4756.15},{"t":695,"v":4755.55},{"t":699,"v":4753.45},{"t":703,"v":4752.85},{"t":707,"v":4753.15},{"t":712,"v":4754.15},{"t":717,"v":4754.85},{"t":722,"v":4755.05},{"t":727,"v":4754.55},{"t":732,"v":4753.85},{"t":737,"v":4753.35},{"t":742,"v":4754.15},{"t":747,"v":4756.15},{"t":752,"v":4758.55},{"t":757,"v":4759.55},{"t":762,"v":4758.85},{"t":765,"v":4757.15},{"t":768,"v":4755.85},{"t":773,"v":4755.35},{"t":778,"v":4755.55},{"t":783,"v":4756.55},{"t":788,"v":4756.85},{"t":793,"v":4757.15},{"t":797,"v":4758.85},{"t":800,"v":4761.15},{"t":803,"v":4762.85},{"t":807,"v":4763.65},{"t":810,"v":4762.55},{"t":813,"v":4760.65},{"t":818,"v":4760.65},{"t":823,"v":4760.55},{"t":828,"v":4759.85},{"t":833,"v":4760.85},{"t":838,"v":4762.15},{"t":842,"v":4762.35},{"t":845,"v":4761.55},{"t":850,"v":4760.15},{"t":853,"v":4759.65},{"t":857,"v":4760.55},{"t":860,"v":4760.85},{"t":863,"v":4761.55},{"t":867,"v":4764.15},{"t":870,"v":4767.55},{"t":873,"v":4771.15},{"t":877,"v":4773.15},{"t":880,"v":4774.05},{"t":883,"v":4772.55},{"t":887,"v":4771.85},{"t":892,"v":4771.35},{"t":895,"v":4770.15},{"t":900,"v":4767.55},{"t":903,"v":4765.55},{"t":907,"v":4764.15},{"t":910,"v":4763.55},{"t":913,"v":4764.15},{"t":917,"v":4764.35},{"t":920,"v":4763.85},{"t":923,"v":4763.55},{"t":927,"v":4762.55},{"t":930,"v":4760.55},{"t":933,"v":4758.85},{"t":937,"v":4757.55},{"t":940,"v":4757.85},{"t":943,"v":4757.55},{"t":947,"v":4755.55},{"t":950,"v":4753.15},{"t":955,"v":4751.85},{"t":960,"v":4748.55},{"t":965,"v":4745.85},{"t":968,"v":4744.55},{"t":972,"v":4745.55},{"t":975,"v":4746.55},{"t":978,"v":4745.85},{"t":982,"v":4744.15},{"t":985,"v":4742.85},{"t":988,"v":4742.35},{"t":992,"v":4742.85},{"t":995,"v":4745.15},{"t":998,"v":4747.15},{"t":1003,"v":4748.55},{"t":1008,"v":4749.55},{"t":1013,"v":4749.85},{"t":1018,"v":4749.65},{"t":1023,"v":4749.65},{"t":1028,"v":4749.65},{"t":1033,"v":4749.85},{"t":1037,"v":4751.55},{"t":1040,"v":4752.85},{"t":1045,"v":4754.55},{"t":1050,"v":4754.85},{"t":1055,"v":4755.15},{"t":1060,"v":4756.85},{"t":1065,"v":4758.55},{"t":1070,"v":4759.85},{"t":1075,"v":4760.05},{"t":1080,"v":4760.35},{"t":1083,"v":4759.85},{"t":1087,"v":4758.85},{"t":1090,"v":4757.85},{"t":1095,"v":4756.85},{"t":1100,"v":4756.05},{"t":1103,"v":4757.15},{"t":1107,"v":4759.15},{"t":1110,"v":4761.15},{"t":1113,"v":4763.15},{"t":1117,"v":4764.85},{"t":1121,"v":4765.15},{"t":1125,"v":4764.55},{"t":1128,"v":4764.55},{"t":1132,"v":4765.15},{"t":1135,"v":4765.85},{"t":1140,"v":4766.65},{"t":1143,"v":4765.85},{"t":1147,"v":4765.15},{"t":1150,"v":4765.05},{"t":1153,"v":4765.35},{"t":1157,"v":4765.55},{"t":1162,"v":4766.15},{"t":1168,"v":4767.15},{"t":1172,"v":4766.85},{"t":1175,"v":4766.15},{"t":1180,"v":4765.65},{"t":1185,"v":4765.35},{"t":1188,"v":4765.65},{"t":1192,"v":4766.15},{"t":1195,"v":4767.15},{"t":1198,"v":4768.55},{"t":1202,"v":4767.85},{"t":1207,"v":4767.35},{"t":1213,"v":4766.85},{"t":1220,"v":4765.85},{"t":1227,"v":4764.55},{"t":1233,"v":4763.85},{"t":1240,"v":4763.35},{"t":1247,"v":4762.85},{"t":1253,"v":4762.55},{"t":1258,"v":4762.35},{"t":1263,"v":4762.55},{"t":1267,"v":4763.15},{"t":1270,"v":4762.85},{"t":1273,"v":4761.15},{"t":1278,"v":4759.15},{"t":1282,"v":4758.55},{"t":1287,"v":4758.55},{"t":1290,"v":4759.55},{"t":1293,"v":4760.55},{"t":1297,"v":4761.15},{"t":1300,"v":4761.55},{"t":1303,"v":4760.85},{"t":1308,"v":4759.85},{"t":1313,"v":4759.15},{"t":1318,"v":4759.35},{"t":1322,"v":4760.55},{"t":1325,"v":4761.55},{"t":1328,"v":4762.05},{"t":1333,"v":4761.85},{"t":1338,"v":4761.55},{"t":1343,"v":4761.85},{"t":1347,"v":4762.55},{"t":1350,"v":4763.55},{"t":1352,"v":4763.85}
],
"m2":[
{"t":0,"v":4793.55},{"t":3,"v":4794.15},{"t":8,"v":4794.55},{"t":13,"v":4794.05},{"t":18,"v":4793.15},{"t":23,"v":4792.15},{"t":28,"v":4791.55},{"t":32,"v":4791.85},{"t":35,"v":4792.85},{"t":38,"v":4794.15},{"t":43,"v":4795.55},{"t":48,"v":4796.85},{"t":53,"v":4797.55},{"t":58,"v":4798.15},{"t":63,"v":4798.15},{"t":68,"v":4798.05},{"t":72,"v":4798.55},{"t":75,"v":4798.55},{"t":80,"v":4798.05},{"t":83,"v":4797.15},{"t":87,"v":4795.85},{"t":92,"v":4793.15},{"t":95,"v":4790.85},{"t":98,"v":4788.55},{"t":102,"v":4787.15},{"t":105,"v":4786.15},{"t":110,"v":4785.15},{"t":115,"v":4784.55},{"t":120,"v":4784.55},{"t":125,"v":4784.55},{"t":130,"v":4783.85},{"t":135,"v":4782.55},{"t":140,"v":4781.55},{"t":145,"v":4780.15},{"t":150,"v":4778.85},{"t":155,"v":4777.85},{"t":160,"v":4776.85},{"t":165,"v":4775.15},{"t":168,"v":4773.55},{"t":173,"v":4772.15},{"t":180,"v":4771.15},{"t":187,"v":4771.05},{"t":193,"v":4770.85},{"t":200,"v":4770.85},{"t":205,"v":4771.55},{"t":210,"v":4772.85},{"t":215,"v":4774.55},{"t":220,"v":4776.55},{"t":225,"v":4778.55},{"t":230,"v":4780.05},{"t":237,"v":4779.15},{"t":242,"v":4776.85},{"t":247,"v":4774.85},{"t":252,"v":4774.35},{"t":257,"v":4774.35},{"t":262,"v":4774.85},{"t":267,"v":4775.35},{"t":272,"v":4774.85},{"t":277,"v":4773.85},{"t":282,"v":4772.55},{"t":287,"v":4772.05},{"t":292,"v":4772.05},{"t":297,"v":4771.65},{"t":302,"v":4771.35},{"t":307,"v":4771.55},{"t":312,"v":4771.35},{"t":315,"v":4770.55},{"t":320,"v":4769.85},{"t":325,"v":4769.55},{"t":330,"v":4769.35},{"t":335,"v":4769.55},{"t":340,"v":4770.05},{"t":345,"v":4770.15},{"t":350,"v":4770.05},{"t":355,"v":4769.65},{"t":360,"v":4769.55},{"t":365,"v":4769.65},{"t":370,"v":4770.35},{"t":375,"v":4770.85},{"t":380,"v":4771.05},{"t":385,"v":4770.85},{"t":390,"v":4770.65},{"t":395,"v":4770.05},{"t":398,"v":4768.85},{"t":402,"v":4767.15},{"t":405,"v":4765.55},{"t":410,"v":4764.15},{"t":415,"v":4763.65},{"t":420,"v":4763.65},{"t":425,"v":4764.15},{"t":430,"v":4765.05},{"t":435,"v":4765.65},{"t":440,"v":4766.55},{"t":445,"v":4768.05},{"t":450,"v":4769.15},{"t":455,"v":4770.15},{"t":460,"v":4770.35},{"t":465,"v":4769.65},{"t":470,"v":4769.35},{"t":475,"v":4768.85},{"t":480,"v":4768.55},{"t":487,"v":4768.15},{"t":493,"v":4767.85},{"t":498,"v":4767.55},{"t":503,"v":4766.85},{"t":508,"v":4765.85},{"t":513,"v":4764.85},{"t":518,"v":4763.55},{"t":523,"v":4762.55},{"t":528,"v":4761.85},{"t":533,"v":4761.15},{"t":538,"v":4760.85},{"t":543,"v":4760.85},{"t":548,"v":4761.05},{"t":553,"v":4761.15},{"t":558,"v":4761.85},{"t":563,"v":4761.55},{"t":568,"v":4761.15},{"t":573,"v":4761.05},{"t":578,"v":4760.85},{"t":583,"v":4760.55},{"t":588,"v":4760.05},{"t":593,"v":4759.85},{"t":598,"v":4760.05},{"t":603,"v":4759.85},{"t":608,"v":4759.55},{"t":613,"v":4758.65},{"t":618,"v":4758.15},{"t":623,"v":4758.55},{"t":628,"v":4759.05},{"t":633,"v":4759.85},{"t":638,"v":4760.85},{"t":643,"v":4760.85},{"t":648,"v":4760.55},{"t":653,"v":4760.65},{"t":658,"v":4761.55},{"t":663,"v":4761.85},{"t":668,"v":4761.55},{"t":673,"v":4761.85},{"t":678,"v":4761.85},{"t":683,"v":4760.55},{"t":688,"v":4758.55},{"t":693,"v":4756.55},{"t":698,"v":4755.15},{"t":703,"v":4753.85},{"t":707,"v":4753.15},{"t":712,"v":4753.55},{"t":717,"v":4754.15},{"t":722,"v":4754.65},{"t":727,"v":4754.55},{"t":732,"v":4754.35},{"t":737,"v":4754.15},{"t":742,"v":4754.15},{"t":747,"v":4755.55},{"t":752,"v":4757.15},{"t":757,"v":4758.55},{"t":762,"v":4758.85},{"t":767,"v":4758.15},{"t":772,"v":4756.85},{"t":777,"v":4756.15},{"t":782,"v":4756.15},{"t":787,"v":4756.55},{"t":792,"v":4756.85},{"t":797,"v":4758.15},{"t":802,"v":4760.15},{"t":807,"v":4761.55},{"t":812,"v":4762.15},{"t":817,"v":4762.35},{"t":822,"v":4761.65},{"t":827,"v":4760.85},{"t":832,"v":4760.55},{"t":837,"v":4760.85},{"t":842,"v":4761.35},{"t":847,"v":4761.15},{"t":852,"v":4760.65},{"t":857,"v":4760.55},{"t":862,"v":4760.85},{"t":867,"v":4762.15},{"t":870,"v":4763.85},{"t":873,"v":4766.15},{"t":877,"v":4768.85},{"t":880,"v":4770.85},{"t":883,"v":4772.15},{"t":887,"v":4772.65},{"t":892,"v":4772.85},{"t":895,"v":4771.85},{"t":900,"v":4769.85},{"t":905,"v":4767.85},{"t":910,"v":4765.85},{"t":915,"v":4764.55},{"t":920,"v":4764.15},{"t":925,"v":4763.85},{"t":930,"v":4762.55},{"t":935,"v":4760.55},{"t":940,"v":4758.85},{"t":945,"v":4757.15},{"t":950,"v":4755.85},{"t":955,"v":4754.55},{"t":960,"v":4751.85},{"t":965,"v":4749.15},{"t":970,"v":4747.15},{"t":975,"v":4745.55},{"t":980,"v":4744.85},{"t":985,"v":4744.55},{"t":990,"v":4744.15},{"t":993,"v":4743.55},{"t":998,"v":4745.15},{"t":1003,"v":4747.15},{"t":1008,"v":4748.55},{"t":1013,"v":4749.15},{"t":1020,"v":4749.55},{"t":1027,"v":4749.85},{"t":1033,"v":4749.85},{"t":1038,"v":4750.85},{"t":1043,"v":4752.55},{"t":1048,"v":4753.85},{"t":1053,"v":4754.85},{"t":1058,"v":4755.55},{"t":1063,"v":4756.85},{"t":1068,"v":4758.15},{"t":1073,"v":4759.15},{"t":1078,"v":4759.85},{"t":1083,"v":4760.15},{"t":1088,"v":4759.15},{"t":1093,"v":4757.85},{"t":1098,"v":4757.05},{"t":1103,"v":4756.55},{"t":1108,"v":4757.85},{"t":1113,"v":4760.15},{"t":1118,"v":4762.15},{"t":1123,"v":4763.55},{"t":1128,"v":4764.55},{"t":1133,"v":4765.15},{"t":1138,"v":4765.55},{"t":1143,"v":4765.65},{"t":1148,"v":4765.65},{"t":1153,"v":4765.55},{"t":1158,"v":4765.55},{"t":1163,"v":4766.05},{"t":1168,"v":4766.35},{"t":1173,"v":4766.55},{"t":1178,"v":4766.55},{"t":1183,"v":4766.05},{"t":1188,"v":4765.85},{"t":1193,"v":4766.05},{"t":1198,"v":4766.55},{"t":1203,"v":4767.55},{"t":1210,"v":4767.15},{"t":1217,"v":4766.55},{"t":1223,"v":4765.55},{"t":1230,"v":4764.55},{"t":1237,"v":4763.85},{"t":1243,"v":4763.15},{"t":1250,"v":4762.85},{"t":1257,"v":4762.55},{"t":1263,"v":4762.35},{"t":1270,"v":4762.35},{"t":1275,"v":4761.55},{"t":1280,"v":4760.15},{"t":1285,"v":4759.35},{"t":1290,"v":4759.35},{"t":1295,"v":4759.85},{"t":1300,"v":4760.65},{"t":1305,"v":4760.85},{"t":1310,"v":4760.35},{"t":1315,"v":4759.85},{"t":1320,"v":4760.15},{"t":1325,"v":4760.85},{"t":1330,"v":4761.55},{"t":1335,"v":4761.65},{"t":1340,"v":4761.65},{"t":1345,"v":4761.85},{"t":1350,"v":4762.55},{"t":1352,"v":4762.85}
],
"m3":[
{"t":0,"v":4790.65},{"t":7,"v":4791.15},{"t":13,"v":4791.55},{"t":20,"v":4792.15},{"t":27,"v":4792.55},{"t":33,"v":4792.85},{"t":40,"v":4793.85},{"t":47,"v":4794.35},{"t":53,"v":4794.85},{"t":60,"v":4795.15},{"t":67,"v":4795.65},{"t":73,"v":4796.15},{"t":80,"v":4796.65},{"t":85,"v":4797.05},{"t":90,"v":4796.55},{"t":95,"v":4795.85},{"t":100,"v":4794.55},{"t":107,"v":4792.55},{"t":113,"v":4791.15},{"t":120,"v":4789.15},{"t":127,"v":4787.55},{"t":133,"v":4785.55},{"t":140,"v":4783.85},{"t":147,"v":4782.55},{"t":153,"v":4781.85},{"t":160,"v":4781.15},{"t":167,"v":4779.85},{"t":173,"v":4778.55},{"t":180,"v":4777.15},{"t":187,"v":4775.55},{"t":193,"v":4773.85},{"t":200,"v":4772.55},{"t":207,"v":4772.35},{"t":213,"v":4772.55},{"t":220,"v":4773.05},{"t":227,"v":4773.85},{"t":230,"v":4774.35},{"t":237,"v":4775.35},{"t":243,"v":4775.65},{"t":250,"v":4776.05},{"t":257,"v":4776.35},{"t":263,"v":4776.65},{"t":268,"v":4776.85},{"t":273,"v":4776.35},{"t":280,"v":4775.35},{"t":285,"v":4774.55},{"t":290,"v":4774.05},{"t":297,"v":4773.85},{"t":303,"v":4773.55},{"t":310,"v":4772.85},{"t":317,"v":4772.15},{"t":323,"v":4771.55},{"t":330,"v":4771.05},{"t":337,"v":4770.55},{"t":343,"v":4770.35},{"t":350,"v":4770.15},{"t":357,"v":4769.85},{"t":363,"v":4769.85},{"t":370,"v":4769.85},{"t":377,"v":4770.05},{"t":383,"v":4770.15},{"t":390,"v":4770.35},{"t":393,"v":4770.05},{"t":400,"v":4769.15},{"t":407,"v":4768.15},{"t":413,"v":4767.65},{"t":420,"v":4767.35},{"t":427,"v":4766.85},{"t":433,"v":4766.15},{"t":440,"v":4766.15},{"t":447,"v":4766.15},{"t":453,"v":4766.35},{"t":460,"v":4766.95},{"t":467,"v":4767.85},{"t":473,"v":4768.35},{"t":480,"v":4768.55},{"t":487,"v":4768.65},{"t":493,"v":4768.65},{"t":498,"v":4768.85},{"t":502,"v":4768.55},{"t":507,"v":4768.15},{"t":513,"v":4767.15},{"t":520,"v":4766.15},{"t":527,"v":4765.15},{"t":533,"v":4764.15},{"t":540,"v":4763.15},{"t":547,"v":4762.55},{"t":553,"v":4762.05},{"t":560,"v":4761.65},{"t":567,"v":4761.35},{"t":573,"v":4761.15},{"t":580,"v":4761.05},{"t":587,"v":4760.85},{"t":593,"v":4760.85},{"t":600,"v":4760.85},{"t":607,"v":4760.55},{"t":613,"v":4760.15},{"t":620,"v":4759.65},{"t":627,"v":4759.55},{"t":633,"v":4759.55},{"t":640,"v":4759.65},{"t":647,"v":4759.65},{"t":653,"v":4759.65},{"t":660,"v":4760.15},{"t":667,"v":4760.55},{"t":673,"v":4760.85},{"t":678,"v":4761.15},{"t":682,"v":4760.85},{"t":687,"v":4760.15},{"t":693,"v":4759.55},{"t":700,"v":4759.05},{"t":710,"v":4757.85},{"t":720,"v":4756.35},{"t":730,"v":4755.15},{"t":740,"v":4754.35},{"t":750,"v":4754.35},{"t":757,"v":4754.85},{"t":763,"v":4755.55},{"t":770,"v":4755.85},{"t":777,"v":4756.05},{"t":783,"v":4756.15},{"t":790,"v":4756.55},{"t":797,"v":4757.55},{"t":803,"v":4758.55},{"t":810,"v":4758.65},{"t":817,"v":4758.85},{"t":823,"v":4759.15},{"t":830,"v":4759.85},{"t":837,"v":4760.55},{"t":843,"v":4761.15},{"t":850,"v":4761.55},{"t":857,"v":4761.35},{"t":863,"v":4761.55},{"t":870,"v":4762.55},{"t":877,"v":4763.85},{"t":883,"v":4764.85},{"t":890,"v":4766.15},{"t":897,"v":4766.65},{"t":903,"v":4767.05},{"t":910,"v":4767.35},{"t":917,"v":4767.65},{"t":923,"v":4767.85},{"t":928,"v":4767.35},{"t":933,"v":4765.55},{"t":940,"v":4763.55},{"t":947,"v":4762.15},{"t":950,"v":4761.15},{"t":957,"v":4759.15},{"t":963,"v":4756.85},{"t":970,"v":4754.55},{"t":977,"v":4752.15},{"t":983,"v":4750.15},{"t":990,"v":4748.55},{"t":997,"v":4747.15},{"t":1003,"v":4746.65},{"t":1010,"v":4746.35},{"t":1017,"v":4746.15},{"t":1023,"v":4746.85},{"t":1030,"v":4747.35},{"t":1037,"v":4747.55},{"t":1040,"v":4748.15},{"t":1047,"v":4749.85},{"t":1053,"v":4751.55},{"t":1060,"v":4752.85},{"t":1067,"v":4754.15},{"t":1073,"v":4755.15},{"t":1080,"v":4756.15},{"t":1087,"v":4756.85},{"t":1093,"v":4757.55},{"t":1100,"v":4757.85},{"t":1107,"v":4758.15},{"t":1113,"v":4759.15},{"t":1120,"v":4760.05},{"t":1127,"v":4760.35},{"t":1133,"v":4760.85},{"t":1140,"v":4761.55},{"t":1147,"v":4762.15},{"t":1153,"v":4763.15},{"t":1160,"v":4764.55},{"t":1167,"v":4765.55},{"t":1173,"v":4765.85},{"t":1180,"v":4765.85},{"t":1187,"v":4765.85},{"t":1193,"v":4766.15},{"t":1200,"v":4766.55},{"t":1207,"v":4766.65},{"t":1213,"v":4766.85},{"t":1220,"v":4766.65},{"t":1227,"v":4766.35},{"t":1233,"v":4766.15},{"t":1240,"v":4765.85},{"t":1247,"v":4765.55},{"t":1253,"v":4765.15},{"t":1260,"v":4764.65},{"t":1267,"v":4764.15},{"t":1273,"v":4763.55},{"t":1280,"v":4762.85},{"t":1287,"v":4762.15},{"t":1293,"v":4761.65},{"t":1300,"v":4761.15},{"t":1307,"v":4760.85},{"t":1313,"v":4760.65},{"t":1320,"v":4760.55},{"t":1327,"v":4760.35},{"t":1333,"v":4760.55},{"t":1340,"v":4760.65},{"t":1347,"v":4761.05},{"t":1352,"v":4761.35}
],
"m4":[
{"t":0,"v":4790.85},{"t":20,"v":4790.85},{"t":37,"v":4790.85},{"t":43,"v":4791.55},{"t":50,"v":4792.15},{"t":57,"v":4792.85},{"t":63,"v":4793.55},{"t":70,"v":4793.85},{"t":77,"v":4794.55},{"t":83,"v":4794.85},{"t":90,"v":4794.85},{"t":97,"v":4794.55},{"t":103,"v":4794.15},{"t":110,"v":4793.55},{"t":117,"v":4792.85},{"t":123,"v":4792.15},{"t":130,"v":4791.55},{"t":137,"v":4791.15},{"t":143,"v":4790.65},{"t":150,"v":4789.55},{"t":157,"v":4788.15},{"t":163,"v":4786.85},{"t":170,"v":4785.55},{"t":177,"v":4783.85},{"t":183,"v":4782.15},{"t":190,"v":4780.55},{"t":197,"v":4779.15},{"t":203,"v":4778.15},{"t":210,"v":4777.55},{"t":217,"v":4777.05},{"t":223,"v":4776.85},{"t":230,"v":4776.65},{"t":237,"v":4776.55},{"t":243,"v":4775.85},{"t":250,"v":4775.35},{"t":257,"v":4775.05},{"t":263,"v":4774.85},{"t":270,"v":4774.55},{"t":277,"v":4774.35},{"t":283,"v":4774.25},{"t":303,"v":4774.25},{"t":310,"v":4774.15},{"t":317,"v":4774.05},{"t":323,"v":4773.85},{"t":330,"v":4773.65},{"t":337,"v":4773.15},{"t":343,"v":4772.65},{"t":350,"v":4772.05},{"t":357,"v":4771.55},{"t":363,"v":4771.35},{"t":370,"v":4771.15},{"t":377,"v":4771.05},{"t":383,"v":4770.65},{"t":390,"v":4770.35},{"t":397,"v":4770.05},{"t":403,"v":4769.55},{"t":410,"v":4769.05},{"t":417,"v":4768.85},{"t":423,"v":4768.55},{"t":430,"v":4768.15},{"t":470,"v":4768.15},{"t":477,"v":4768.05},{"t":483,"v":4767.85},{"t":490,"v":4767.65},{"t":497,"v":4767.55},{"t":503,"v":4767.15},{"t":510,"v":4766.85},{"t":517,"v":4766.55},{"t":523,"v":4766.45},{"t":530,"v":4766.45},{"t":537,"v":4766.25},{"t":543,"v":4766.05},{"t":550,"v":4765.85},{"t":557,"v":4765.65},{"t":560,"v":4765.55},{"t":563,"v":4765.15},{"t":570,"v":4764.55},{"t":577,"v":4764.05},{"t":583,"v":4763.55},{"t":590,"v":4763.05},{"t":597,"v":4762.55},{"t":603,"v":4762.05},{"t":610,"v":4761.55},{"t":617,"v":4761.05},{"t":623,"v":4760.65},{"t":630,"v":4760.55},{"t":637,"v":4760.35},{"t":657,"v":4760.35},{"t":663,"v":4760.45},{"t":670,"v":4760.45},{"t":677,"v":4760.35},{"t":683,"v":4760.15},{"t":690,"v":4759.85},{"t":697,"v":4759.55},{"t":700,"v":4759.35},{"t":710,"v":4758.55},{"t":720,"v":4758.15},{"t":730,"v":4758.05},{"t":740,"v":4757.65},{"t":750,"v":4757.35},{"t":760,"v":4757.15},{"t":770,"v":4757.05},{"t":780,"v":4756.65},{"t":787,"v":4756.15},{"t":793,"v":4755.85},{"t":800,"v":4756.15},{"t":807,"v":4756.55},{"t":813,"v":4756.85},{"t":820,"v":4757.15},{"t":827,"v":4757.55},{"t":833,"v":4757.85},{"t":840,"v":4758.55},{"t":847,"v":4758.85},{"t":853,"v":4759.15},{"t":860,"v":4759.65},{"t":867,"v":4760.15},{"t":873,"v":4760.85},{"t":880,"v":4761.55},{"t":887,"v":4762.15},{"t":893,"v":4763.15},{"t":900,"v":4763.65},{"t":907,"v":4764.05},{"t":913,"v":4764.55},{"t":920,"v":4764.55},{"t":927,"v":4764.35},{"t":933,"v":4764.15},{"t":940,"v":4764.15},{"t":947,"v":4763.65},{"t":950,"v":4763.35},{"t":957,"v":4762.55},{"t":963,"v":4761.55},{"t":970,"v":4760.85},{"t":977,"v":4760.15},{"t":983,"v":4759.55},{"t":988,"v":4758.55},{"t":993,"v":4757.15},{"t":1000,"v":4755.85},{"t":1007,"v":4754.55},{"t":1013,"v":4753.15},{"t":1020,"v":4752.15},{"t":1027,"v":4751.55},{"t":1033,"v":4750.85},{"t":1040,"v":4750.15},{"t":1047,"v":4749.85},{"t":1053,"v":4749.65},{"t":1060,"v":4749.65},{"t":1067,"v":4750.05},{"t":1073,"v":4750.35},{"t":1080,"v":4750.85},{"t":1087,"v":4751.55},{"t":1093,"v":4752.15},{"t":1100,"v":4752.85},{"t":1107,"v":4753.85},{"t":1113,"v":4755.15},{"t":1120,"v":4756.55},{"t":1127,"v":4757.55},{"t":1133,"v":4758.35},{"t":1140,"v":4759.15},{"t":1147,"v":4760.05},{"t":1153,"v":4760.85},{"t":1160,"v":4761.55},{"t":1167,"v":4762.15},{"t":1173,"v":4762.65},{"t":1180,"v":4763.05},{"t":1187,"v":4763.35},{"t":1193,"v":4763.65},{"t":1200,"v":4764.15},{"t":1207,"v":4764.85},{"t":1213,"v":4765.35},{"t":1220,"v":4765.85},{"t":1227,"v":4766.05},{"t":1233,"v":4766.05},{"t":1240,"v":4765.95},{"t":1247,"v":4765.85},{"t":1253,"v":4765.65},{"t":1260,"v":4765.55},{"t":1267,"v":4765.35},{"t":1273,"v":4765.05},{"t":1280,"v":4764.65},{"t":1287,"v":4764.35},{"t":1293,"v":4764.05},{"t":1300,"v":4763.65},{"t":1307,"v":4763.35},{"t":1313,"v":4762.85},{"t":1320,"v":4762.35},{"t":1327,"v":4762.05},{"t":1333,"v":4761.65},{"t":1340,"v":4761.55},{"t":1347,"v":4761.35},{"t":1352,"v":4761.45}
],
"m5":[
{"t":0,"v":4791.15},{"t":10,"v":4791.15},{"t":20,"v":4791.35},{"t":30,"v":4791.65},{"t":40,"v":4792.05},{"t":50,"v":4792.05},{"t":60,"v":4792.15},{"t":70,"v":4792.55},{"t":80,"v":4792.85},{"t":85,"v":4792.95},{"t":90,"v":4792.65},{"t":100,"v":4792.35},{"t":110,"v":4791.85},{"t":120,"v":4791.55},{"t":130,"v":4791.35},{"t":140,"v":4791.05},{"t":150,"v":4790.55},{"t":160,"v":4790.05},{"t":170,"v":4789.15},{"t":180,"v":4788.15},{"t":190,"v":4787.15},{"t":200,"v":4786.15},{"t":210,"v":4785.15},{"t":220,"v":4784.55},{"t":230,"v":4783.65},{"t":237,"v":4782.85},{"t":243,"v":4781.85},{"t":250,"v":4780.85},{"t":257,"v":4779.85},{"t":263,"v":4779.15},{"t":270,"v":4778.55},{"t":277,"v":4777.65},{"t":283,"v":4777.05},{"t":290,"v":4776.55},{"t":297,"v":4776.05},{"t":303,"v":4775.55},{"t":310,"v":4775.05},{"t":317,"v":4774.55},{"t":323,"v":4774.05},{"t":330,"v":4773.65},{"t":337,"v":4773.35},{"t":343,"v":4773.15},{"t":350,"v":4773.05},{"t":357,"v":4772.85},{"t":363,"v":4772.65},{"t":370,"v":4772.55},{"t":390,"v":4772.55},{"t":397,"v":4772.35},{"t":403,"v":4772.05},{"t":410,"v":4771.65},{"t":417,"v":4771.35},{"t":423,"v":4770.85},{"t":430,"v":4770.35},{"t":437,"v":4770.05},{"t":443,"v":4769.85},{"t":450,"v":4769.65},{"t":460,"v":4769.35},{"t":470,"v":4769.05},{"t":480,"v":4768.65},{"t":490,"v":4768.55},{"t":500,"v":4768.35},{"t":510,"v":4768.05},{"t":520,"v":4767.65},{"t":530,"v":4767.35},{"t":540,"v":4767.05},{"t":550,"v":4766.65},{"t":560,"v":4766.35},{"t":570,"v":4765.85},{"t":580,"v":4765.35},{"t":590,"v":4764.65},{"t":600,"v":4764.35},{"t":610,"v":4764.15},{"t":620,"v":4763.85},{"t":630,"v":4763.55},{"t":640,"v":4763.15},{"t":650,"v":4762.65},{"t":660,"v":4762.15},{"t":670,"v":4761.85},{"t":680,"v":4761.35},{"t":690,"v":4760.85},{"t":700,"v":4760.35},{"t":710,"v":4759.65},{"t":720,"v":4759.15},{"t":730,"v":4758.85},{"t":740,"v":4758.65},{"t":750,"v":4758.55},{"t":760,"v":4758.15},{"t":770,"v":4758.05},{"t":780,"v":4757.85},{"t":790,"v":4757.65},{"t":800,"v":4757.85},{"t":810,"v":4758.05},{"t":867,"v":4758.05},{"t":873,"v":4758.55},{"t":880,"v":4759.05},{"t":887,"v":4759.55},{"t":893,"v":4760.05},{"t":900,"v":4760.55},{"t":907,"v":4760.85},{"t":913,"v":4761.15},{"t":920,"v":4761.55},{"t":927,"v":4761.65},{"t":933,"v":4761.85},{"t":940,"v":4761.95},{"t":950,"v":4761.85},{"t":960,"v":4761.15},{"t":970,"v":4760.85},{"t":980,"v":4760.35},{"t":990,"v":4759.65},{"t":1000,"v":4759.05},{"t":1010,"v":4758.55},{"t":1020,"v":4757.85},{"t":1030,"v":4757.35},{"t":1040,"v":4756.65},{"t":1050,"v":4756.35},{"t":1060,"v":4756.15},{"t":1070,"v":4755.85},{"t":1077,"v":4755.15},{"t":1083,"v":4754.65},{"t":1090,"v":4754.35},{"t":1097,"v":4754.05},{"t":1103,"v":4753.65},{"t":1110,"v":4753.55},{"t":1123,"v":4753.55},{"t":1130,"v":4753.85},{"t":1137,"v":4754.15},{"t":1143,"v":4754.55},{"t":1150,"v":4754.85},{"t":1157,"v":4755.55},{"t":1163,"v":4756.15},{"t":1170,"v":4756.85},{"t":1177,"v":4757.55},{"t":1183,"v":4758.15},{"t":1190,"v":4758.85},{"t":1197,"v":4759.85},{"t":1200,"v":4760.15},{"t":1207,"v":4760.85},{"t":1213,"v":4761.55},{"t":1220,"v":4762.15},{"t":1227,"v":4762.85},{"t":1233,"v":4763.15},{"t":1240,"v":4763.55},{"t":1247,"v":4763.65},{"t":1253,"v":4763.85},{"t":1260,"v":4763.95},{"t":1280,"v":4763.95},{"t":1290,"v":4764.05},{"t":1313,"v":4764.05},{"t":1320,"v":4763.95},{"t":1327,"v":4763.75},{"t":1333,"v":4763.55},{"t":1352,"v":4763.55}
],
"m6":[
{"t":0,"v":4780.15},{"t":10,"v":4780.85},{"t":20,"v":4781.55},{"t":30,"v":4782.05},{"t":40,"v":4782.55},{"t":50,"v":4783.15},{"t":60,"v":4783.85},{"t":70,"v":4784.85},{"t":80,"v":4786.15},{"t":90,"v":4787.15},{"t":100,"v":4787.85},{"t":110,"v":4788.55},{"t":120,"v":4789.05},{"t":130,"v":4789.35},{"t":140,"v":4789.65},{"t":150,"v":4789.95},{"t":160,"v":4789.95},{"t":170,"v":4789.55},{"t":180,"v":4789.35},{"t":190,"v":4788.85},{"t":200,"v":4788.55},{"t":210,"v":4788.15},{"t":220,"v":4787.85},{"t":230,"v":4787.55},{"t":250,"v":4786.65},{"t":275,"v":4785.35},{"t":300,"v":4784.15},{"t":325,"v":4782.85},{"t":333,"v":4782.55},{"t":343,"v":4782.05},{"t":353,"v":4781.55},{"t":363,"v":4781.05},{"t":373,"v":4780.55},{"t":383,"v":4780.15},{"t":393,"v":4779.65},{"t":403,"v":4779.05},{"t":413,"v":4778.15},{"t":423,"v":4777.55},{"t":433,"v":4776.85},{"t":443,"v":4776.05},{"t":453,"v":4775.35},{"t":460,"v":4774.85},{"t":480,"v":4773.65},{"t":507,"v":4771.85},{"t":517,"v":4771.35},{"t":527,"v":4770.85},{"t":537,"v":4770.35},{"t":547,"v":4769.85},{"t":557,"v":4769.35},{"t":567,"v":4769.05},{"t":577,"v":4768.65},{"t":587,"v":4768.55},{"t":597,"v":4768.15},{"t":607,"v":4767.85},{"t":617,"v":4767.55},{"t":627,"v":4767.05},{"t":637,"v":4766.55},{"t":647,"v":4766.05},{"t":657,"v":4765.65},{"t":667,"v":4765.55},{"t":677,"v":4765.15},{"t":687,"v":4764.85},{"t":697,"v":4764.55},{"t":700,"v":4764.35},{"t":710,"v":4763.65},{"t":720,"v":4763.35},{"t":730,"v":4763.05},{"t":740,"v":4762.65},{"t":750,"v":4762.35},{"t":760,"v":4762.05},{"t":770,"v":4761.65},{"t":780,"v":4761.35},{"t":790,"v":4761.05},{"t":797,"v":4760.85},{"t":817,"v":4760.85},{"t":827,"v":4760.65},{"t":853,"v":4760.65},{"t":860,"v":4760.85},{"t":870,"v":4761.05},{"t":880,"v":4761.15},{"t":890,"v":4761.35},{"t":900,"v":4761.55},{"t":910,"v":4761.55},{"t":920,"v":4761.35},{"t":930,"v":4761.15},{"t":940,"v":4760.95},{"t":950,"v":4760.45},{"t":960,"v":4759.65},{"t":970,"v":4759.35},{"t":980,"v":4759.05},{"t":990,"v":4758.65},{"t":1000,"v":4758.15},{"t":1010,"v":4757.85},{"t":1020,"v":4757.55},{"t":1030,"v":4757.35},{"t":1040,"v":4757.15},{"t":1050,"v":4757.05},{"t":1060,"v":4757.05},{"t":1070,"v":4756.95},{"t":1090,"v":4756.95},{"t":1100,"v":4757.05},{"t":1107,"v":4757.15},{"t":1113,"v":4757.55},{"t":1120,"v":4757.65},{"t":1130,"v":4757.85},{"t":1140,"v":4758.15},{"t":1150,"v":4758.35},{"t":1160,"v":4758.55},{"t":1170,"v":4758.65},{"t":1180,"v":4758.85},{"t":1190,"v":4759.05},{"t":1200,"v":4759.35},{"t":1210,"v":4759.55},{"t":1220,"v":4759.65},{"t":1230,"v":4759.65},{"t":1240,"v":4759.75},{"t":1260,"v":4759.75},{"t":1270,"v":4759.65},{"t":1280,"v":4759.35},{"t":1290,"v":4759.05},{"t":1300,"v":4758.95},{"t":1310,"v":4758.85},{"t":1330,"v":4758.85},{"t":1340,"v":4758.95},{"t":1347,"v":4759.05},{"t":1352,"v":4759.15}
],
"minor":[{"p":4734.39},{"p":4735.50},{"p":4736.61},{"p":4737.72},{"p":4739.94},{"p":4741.05},{"p":4742.16},{"p":4743.27},{"p":4745.49},{"p":4746.60},{"p":4747.70},{"p":4748.81},{"p":4751.03},{"p":4752.14},{"p":4753.25},{"p":4754.36},{"p":4756.58},{"p":4757.69},{"p":4758.80},{"p":4759.91},{"p":4762.13},{"p":4763.24},{"p":4765.46},{"p":4767.68},{"p":4768.79},{"p":4769.89},{"p":4771.00},{"p":4773.22},{"p":4774.33},{"p":4775.44},{"p":4776.55},{"p":4778.77},{"p":4779.88},{"p":4780.99},{"p":4782.10},{"p":4784.32},{"p":4785.43},{"p":4786.54},{"p":4787.65},{"p":4789.87},{"p":4790.97},{"p":4792.08},{"p":4793.19},{"p":4795.41},{"p":4796.52},{"p":4797.63},{"p":4798.74},{"p":4800.96},{"p":4802.07},{"p":4803.18},{"p":4804.29}]
},
"layer":[
{"data":{"name":"bars"},"mark":{"type":"rule","strokeWidth":1,"xOffset":0.5},
 "encoding":{
  "x":{"field":"t","type":"quantitative","scale":{"domain":[0,1376],"nice":false,"zero":false},"axis":null},
  "y":{"field":"l","type":"quantitative","scale":{"domain":[4732.45,4804.85],"nice":false,"zero":false},
   "axis":{"orient":"right","domain":false,"format":".2f","labelFont":"Liberation Sans","labelFontSize":12,"labelColor":"#2a2a35","labelPadding":0,"tickColor":"#555555","tickSize":4,"labelOverlap":false,"labelFlush":false,"labelBound":false,
    "values":[4738.83,4744.38,4749.92,4755.47,4761.02,4766.57,4772.11,4777.66,4783.21,4788.76,4794.30,4799.85],
    "title":null}},
  "y2":{"field":"h"},
  "color":{"field":"c","type":"nominal","scale":{"domain":["r","g"],"range":["#c9463f","#6b9e4f"]},"legend":null}}},
{"data":{"name":"minor"},"mark":{"type":"rule","color":"#9a9a9a","strokeWidth":1,"yOffset":0.5},"encoding":{"x":{"datum":1376,"type":"quantitative"},"x2":{"datum":1378},"y":{"field":"p","type":"quantitative"}}},
{"data":{"values":[{"p":4733.15}]},"mark":{"type":"rule","color":"#dcdcdc","strokeWidth":1,"yOffset":0.5},"encoding":{"y":{"field":"p","type":"quantitative"}}},
{"data":{"values":[{"p":4764.65}]},"mark":{"type":"rule","color":"#1f78e0","strokeWidth":1,"strokeDash":[3,3],"yOffset":0.5},"encoding":{"y":{"field":"p","type":"quantitative"}}},
{"data":{"name":"m6"},"mark":{"type":"line","color":"#d23b3b","strokeWidth":1,"interpolate":"monotone"},"encoding":{"x":{"field":"t","type":"quantitative"},"y":{"field":"v","type":"quantitative"}}},
{"data":{"name":"m5"},"mark":{"type":"line","color":"#7f7f7f","strokeWidth":1,"interpolate":"monotone"},"encoding":{"x":{"field":"t","type":"quantitative"},"y":{"field":"v","type":"quantitative"}}},
{"data":{"name":"m4"},"mark":{"type":"line","color":"#ff8000","strokeWidth":1,"interpolate":"monotone"},"encoding":{"x":{"field":"t","type":"quantitative"},"y":{"field":"v","type":"quantitative"}}},
{"data":{"name":"m3"},"mark":{"type":"line","color":"#ff00ff","strokeWidth":1,"interpolate":"monotone"},"encoding":{"x":{"field":"t","type":"quantitative"},"y":{"field":"v","type":"quantitative"}}},
{"data":{"name":"m2"},"mark":{"type":"line","color":"#000080","strokeWidth":1,"interpolate":"monotone"},"encoding":{"x":{"field":"t","type":"quantitative"},"y":{"field":"v","type":"quantitative"}}},
{"data":{"name":"m1"},"mark":{"type":"line","color":"#000000","strokeWidth":1,"interpolate":"monotone"},"encoding":{"x":{"field":"t","type":"quantitative"},"y":{"field":"v","type":"quantitative"}}},
{"data":{"values":[{"t":44,"p":4800.99},{"t":876,"p":4776.68},{"t":984,"p":4738.0}]},"mark":{"type":"point","shape":"M-1,0L1,0M0,-1L0,1","size":64,"stroke":"#000000","strokeWidth":1,"filled":false,"opacity":1},"encoding":{"x":{"field":"t","type":"quantitative"},"y":{"field":"p","type":"quantitative"}}},
{"data":{"values":[{"t0":851,"t1":943,"p0":4774.55,"p1":4780.25},{"t0":977,"t1":1047,"p0":4734.85,"p1":4739.15}]},"mark":{"type":"rect","filled":false,"stroke":"#ff5252","strokeWidth":4},"encoding":{"x":{"field":"t0","type":"quantitative"},"x2":{"field":"t1"},"y":{"field":"p0","type":"quantitative"},"y2":{"field":"p1"}}},
{"data":{"values":[{"t":48,"p":4801.6,"s":"4800.99","k":"hi"},{"t":880,"p":4777.35,"s":"4776.68","k":"hi"},{"t":988,"p":4737.1,"s":"4738.00","k":"lo"}]},"mark":{"type":"text","align":"left","baseline":"middle","font":"Liberation Sans","fontSize":12,"fontWeight":"bold"},"encoding":{"x":{"field":"t","type":"quantitative"},"y":{"field":"p","type":"quantitative"},"text":{"field":"s"},"color":{"field":"k","type":"nominal","scale":{"domain":["hi","lo"],"range":["#e0474c","#62a044"]},"legend":null}}},
{"data":{"values":[{"t0":1376,"t1":1443,"p0":4763.15,"p1":4764.55}]},"mark":{"type":"rect","fill":"#ffffff","stroke":"#ff8000","strokeWidth":1},"encoding":{"x":{"field":"t0","type":"quantitative"},"x2":{"field":"t1"},"y":{"field":"p0","type":"quantitative"},"y2":{"field":"p1"}}},
{"data":{"values":[{"t":1378,"p":4763.85,"s":"4764.65"}]},"mark":{"type":"text","align":"left","baseline":"middle","font":"Liberation Mono","fontSize":11.5,"color":"#ff7f00"},"encoding":{"x":{"field":"t","type":"quantitative"},"y":{"field":"p","type":"quantitative"},"text":{"field":"s"}}},
{"data":{"values":[{"t":1439,"p":4765.3},{"t":1439,"p":4764.9}]},"mark":{"type":"point","shape":"triangle-down","size":22,"filled":true,"color":"#ff8000","opacity":1},"encoding":{"x":{"field":"t","type":"quantitative"},"y":{"field":"p","type":"quantitative"}}},
{"data":{"values":[{"t":1445}]},"mark":{"type":"rule","color":"#c6cfdb","strokeWidth":1,"xOffset":0.5},"encoding":{"x":{"field":"t","type":"quantitative"}}},
{"data":{"values":[{"t":1445,"t1":1460,"p":4800.15},{"t":1445,"t1":1460,"p":4781.05}]},"mark":{"type":"rule","color":"#c6cfdb","strokeWidth":1,"yOffset":0.5},"encoding":{"x":{"field":"t","type":"quantitative"},"x2":{"field":"t1"},"y":{"field":"p","type":"quantitative"}}},
{"data":{"values":[{"t":1447,"p":4803.05,"s":"卖"},{"t":1447,"p":4801.25,"s":"买"},{"t":1447,"p":4798.85,"s":"最"},{"t":1447,"p":4796.85,"s":"涨"},{"t":1447,"p":4794.95,"s":"涨"},{"t":1447,"p":4793.05,"s":"现"},{"t":1447,"p":4791.15,"s":"总"},{"t":1447,"p":4789.25,"s":"总"},{"t":1447,"p":4787.35,"s":"委"},{"t":1447,"p":4785.45,"s":"外"},{"t":1447,"p":4783.55,"s":"比"},{"t":1447,"p":4779.85,"s":"时"},{"t":1447,"p":4777.65,"s":"1"}]},"mark":{"type":"text","align":"left","baseline":"middle","font":"Noto Sans CJK SC","fontSize":14,"color":"#333333"},"encoding":{"x":{"field":"t","type":"quantitative"},"y":{"field":"p","type":"quantitative"},"text":{"field":"s"}}},
{"data":{"values":[{"t":2,"p":4732.75,"s":"0.09"},{"t":37,"p":4732.75,"s":"DEA 0.43"},{"t":100,"p":4732.75,"s":"MACD 0.72"}]},"mark":{"type":"text","align":"left","baseline":"top","font":"Liberation Mono","fontSize":12},"encoding":{"x":{"field":"t","type":"quantitative"},"y":{"field":"p","type":"quantitative"},"text":{"field":"s"},"color":{"field":"s","type":"nominal","scale":{"domain":["0.09","DEA 0.43","MACD 0.72"],"range":["#000000","#000080","#ff00ff"]},"legend":null}}}
]
}
